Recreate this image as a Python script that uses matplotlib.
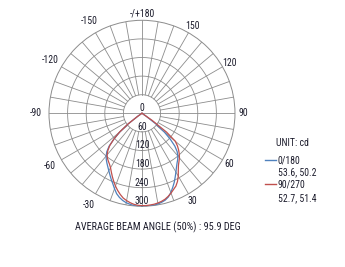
import numpy as np
import matplotlib.pyplot as plt

plt.rcParams['font.family'] = ['Roboto Condensed', 'Liberation Sans Narrow', 'Roboto', 'DejaVu Sans']

# gamma angles (deg) and intensities (cd)
gamma = [0, 2.5, 5, 7.5, 10, 12.5, 15, 17.5, 20, 22.5, 25, 27.5, 30, 32.5, 35, 37.5,
         40, 42.5, 45, 47.5, 50, 52.5, 55, 57.5, 60, 70, 80, 90]
c0_right = [301, 301, 300, 299, 297, 294, 290, 283, 272, 259, 246, 232, 219, 207, 197, 189,
            180, 168, 150, 124, 94, 57, 16, 0, 0, 0, 0, 0]
c0_left = [301, 300, 299, 296, 293, 288, 281, 272, 259, 246, 235, 224, 214, 205, 197, 189,
           180, 168, 150, 122, 92, 55, 15, 0, 0, 0, 0, 0]
c90_right = [298, 298, 297, 296, 294, 291, 287, 281, 274, 266, 259, 248, 234, 218, 205, 196,
             188, 178, 167, 155, 140, 100, 40, 0, 0, 0, 0, 0]
c90_left = [298, 297, 295, 291, 286, 280, 271, 261, 250, 238, 226, 214, 203, 195, 189, 183,
            175, 163, 147, 123, 95, 58, 17, 0, 0, 0, 0, 0]

ring_values = [0, 60, 120, 180, 240, 300]
angle_labels = [30, 60, 90, 120, 150, 180, -150, -120, -90, -60, -30]
series_names = ['0/180', '90/270']
series_values = ['53.6, 50.2', '52.7, 51.4']
colors = ['#4f81bd', '#c0504d']

grid_c = '#8c8c8c'
txt_c = '#1c1c2c'

fig = plt.figure(figsize=(3.45, 2.67), dpi=100)
ax = fig.add_axes([0.1420, 0.2274, 0.5391, 0.6966], projection='polar')
ax.set_theta_zero_location('S')
ax.set_theta_direction(1)
ax.set_ylim(0, 300)
ax.grid(False)
ax.set_xticks([])
ax.set_yticks([])
ax.spines['polar'].set_color(grid_c)
ax.spines['polar'].set_linewidth(0.7)

full = np.linspace(0, 2 * np.pi, 361)
for r in ring_values[1:-1]:
    ax.plot(full, [r] * len(full), color=grid_c, lw=0.6, zorder=1)
for a in range(0, 360, 10):
    t = np.deg2rad(a)
    r0 = 0 if a in (90, 270) else 60
    ax.plot([t, t], [r0, 300], color=grid_c, lw=0.6, zorder=1)

for r in ring_values:
    ax.text(0, r, str(r), ha='center', va='bottom', fontsize=7, color=txt_c, zorder=4)

for a in angle_labels:
    t = np.deg2rad(a)
    if a == 180:
        lab, rr = '-/+180', 322
    else:
        lab = str(a)
        rr = 326 if a > 0 else 343
    ax.text(t, rr, lab, ha='center', va='center', fontsize=7, color=txt_c, clip_on=False)

g = np.deg2rad(np.array(gamma))
curves = [(c0_left, c0_right), (c90_left, c90_right)]
for (left, right), col in zip(curves, colors):
    theta = np.concatenate([-g[::-1], g[1:]])
    rr = np.concatenate([np.array(left)[::-1], np.array(right)[1:]])
    ax.plot(theta, rr, color=col, lw=0.9, zorder=3)

# legend block
fig.text(276 / 345, 1 - 143 / 267, 'UNIT: cd', fontsize=7, color=txt_c, va='center')
name_y = [160, 184]
val_y = [172.5, 198]
for name, val, col, y, vy in zip(series_names, series_values, colors, name_y, val_y):
    fig.add_artist(plt.Line2D([265 / 345, 276 / 345], [1 - y / 267] * 2, color=col, lw=1.0))
    fig.text(278 / 345, 1 - y / 267, name, fontsize=7, color=txt_c, va='center')
    fig.text(278 / 345, 1 - vy / 267, val, fontsize=7, color=txt_c, va='center')

fig.text(158 / 345, 1 - 227 / 267, 'AVERAGE BEAM ANGLE (50%) : 95.9 DEG', fontsize=7.4,
         color=txt_c, ha='center', va='center')

fig.savefig('out.png', dpi=100, facecolor='white')
